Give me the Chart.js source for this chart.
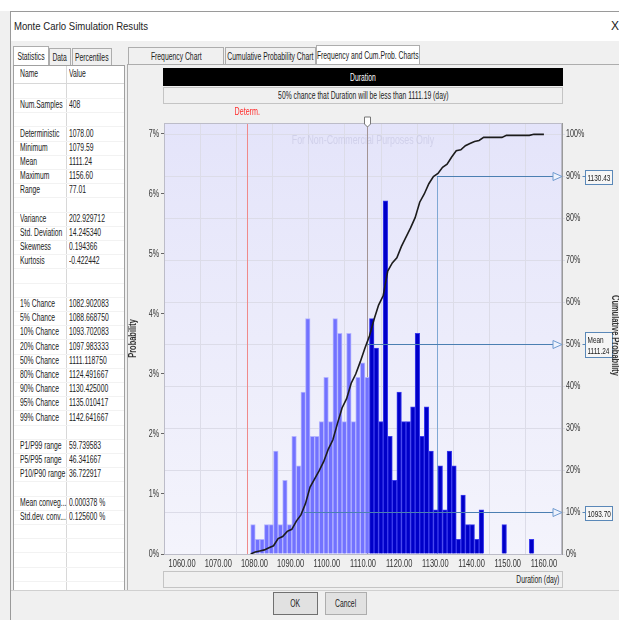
<!DOCTYPE html>
<html>
<head>
<meta charset="utf-8">
<script src="https://cdn.jsdelivr.net/npm/chart.js@4.4.0/dist/chart.umd.min.js"></script>
<style>
  body { margin: 0; width: 619px; height: 620px; overflow: hidden; background: #f0f0f0; position: relative;
         font-family: "Liberation Sans", Arial, sans-serif; font-size: 10px; color: #222; }
  .abs { position: absolute; box-sizing: border-box; }
  .box { display: flex; align-items: center; justify-content: center; white-space: nowrap; }
  .n { display: inline-block; white-space: nowrap; transform: scaleX(0.68); transform-origin: 50% 50%; }
  .tab { position: absolute; box-sizing: border-box; border: 1px solid #adadad; border-bottom: none; background: #f0f0f0;
         display: flex; align-items: center; justify-content: center; white-space: nowrap; }
  .tab.on { background: #fff; }
  .cell { position: absolute; white-space: nowrap; line-height: 14px; transform: scaleX(0.68); transform-origin: 0 50%; }
  .btn { position: absolute; box-sizing: border-box; border: 1px solid #adadad; background: #e1e1e1;
         display: flex; align-items: center; justify-content: center; }
</style>
</head>
<body>
<div class="abs" style="left:0;top:0;width:619px;height:11px;background:#fff;"></div>
<div class="abs" style="left:10px;top:11px;width:620px;height:30px;background:#fff;border-top:1px solid #9a9a9a;border-left:1px solid #9a9a9a;"></div>
<div class="abs" style="left:10px;top:41px;width:1px;height:580px;background:#9a9a9a;"></div>
<div class="abs" style="left:14px;top:20px;font-size:11px;white-space:nowrap;transform:scaleX(0.87);transform-origin:0 50%;">Monte Carlo Simulation Results</div>
<div class="abs" style="left:611px;top:19px;font-size:12px;">X</div>

<div class="tab on" style="left:13px;top:46px;width:36px;height:19px;"><span class="n">Statistics</span></div>
<div class="tab" style="left:49px;top:48px;width:22px;height:17px;"><span class="n">Data</span></div>
<div class="tab" style="left:72px;top:48px;width:40px;height:17px;"><span class="n">Percentiles</span></div>

<div class="tab" style="left:128px;top:47px;width:96px;height:17px;"><span class="n">Frequency Chart</span></div>
<div class="tab" style="left:225px;top:47px;width:91px;height:17px;"><span class="n">Cumulative Probability Chart</span></div>
<div class="tab on" style="left:316px;top:45px;width:104px;height:19px;"><span class="n">Frequency and Cum.Prob. Charts</span></div>
<div class="abs" style="left:128px;top:64px;width:491px;height:1px;background:#adadad;"></div>
<div class="abs" style="left:127px;top:64px;width:1px;height:526px;background:#adadad;"></div>

<div id="table" class="abs" style="left:13px;top:65px;width:112px;height:526px;background:#fff;border:1px solid #a0a0a0;"></div>

<div class="abs box" style="left:163px;top:68px;width:400px;height:18px;background:#000;color:#fff;"><span class="n">Duration</span></div>
<div class="abs box" style="left:163px;top:87px;width:400px;height:17px;background:#f0f0f0;border:1px solid #c4c4c4;"><span class="n">50% chance that Duration will be less than 1111.19 (day)</span></div>
<div class="abs box" style="left:163px;top:571px;width:400px;height:17px;border:1px solid #c4c4c4;justify-content:flex-end;padding-right:3px;"><span class="n" style="transform-origin:100% 50%;">Duration (day)</span></div>

<canvas id="chart" class="abs" width="493" height="470" style="left:126px;top:104px;width:493px;height:470px;"></canvas>

<div class="abs" style="left:11px;top:590px;width:608px;height:1px;background:#d0d0d0;"></div>
<div class="btn" style="left:273px;top:592px;width:45px;height:23px;border:1px solid #707070;"><span class="n">OK</span></div>
<div class="btn" style="left:325px;top:592px;width:42px;height:23px;"><span class="n">Cancel</span></div>

<script>
// Histogram of 408 samples: count per bin, bins start at the minimum
const numSamples = 408;
const binStart = 1079.59;
const binWidth = 1.2625;
const binCounts = [2, 1, 1, 2, 2, 7, 2, 5, 2, 8, 6, 11, 16,
                   8, 8, 9, 12, 9, 16, 15, 9, 15, 9, 12, 13, 12,
                   16, 14, 9, 24, 8, 5, 11, 9, 9, 10, 15, 8, 10, 7,
                   3, 6, 3, 7, 6, 1, 4, 2, 2, 1, 3,
                   0, 0, 0, 0, 2, 0, 0, 0, 0, 0, 1];

const xTickMin = 1060;
const xTickMax = 1160;
const determValue = 1078.00;
const medianValue = 1111.19;
const pctLevels = [10, 50, 90];
const pctValues = [1093.70, 1111.19, 1130.43];
const pctLabels = [['1093.70'], ['Mean', '1111.24'], ['1130.43']];

const statRows = [
  ['', ''], ['Num.Samples', '408'], ['', ''],
  ['Deterministic', '1078.00'], ['Minimum', '1079.59'], ['Mean', '1111.24'], ['Maximum', '1156.60'], ['Range', '77.01'],
  ['', ''],
  ['Variance', '202.929712'], ['Std. Deviation', '14.245340'], ['Skewness', '0.194366'], ['Kurtosis', '-0.422442'],
  ['', ''], ['', ''],
  ['1% Chance', '1082.902083'], ['5% Chance', '1088.668750'], ['10% Chance', '1093.702083'], ['20% Chance', '1097.983333'],
  ['50% Chance', '1111.118750'], ['80% Chance', '1124.491667'], ['90% Chance', '1130.425000'], ['95% Chance', '1135.010417'],
  ['99% Chance', '1142.641667'],
  ['', ''],
  ['P1/P99 range', '59.739583'], ['P5/P95 range', '46.341667'], ['P10/P90 range', '36.722917'],
  ['', ''],
  ['Mean conveg...', '0.000378 %'], ['Std.dev. conv...', '0.125600 %'],
  ['', ''], ['', ''], ['', ''], ['', '']
];

// statistics table
const table = document.getElementById('table');
let html = '<div class="cell" style="left:6px;top:1px;">Name</div><div class="cell" style="left:55px;top:1px;">Value</div>';
html += '<div class="abs" style="left:0;top:17px;width:110px;height:1px;background:#d8d8d8;"></div>';
html += '<div class="abs" style="left:52px;top:0;width:1px;height:524px;background:#d8d8d8;"></div>';
statRows.forEach((r, i) => {
  const top = 18 + i * 14.2;
  html += `<div class="cell" style="left:6px;top:${top}px;">${r[0]}</div>`;
  html += `<div class="cell" style="left:55px;top:${top}px;">${r[1]}</div>`;
  html += `<div class="abs" style="left:0;top:${top + 14}px;width:110px;height:1px;background:#f2f2f2;"></div>`;
});
table.innerHTML = html;

// chart data
const barPoints = binCounts.map((c, i) => ({ x: binStart + i * binWidth, y: c ? c / numSamples * 100 : null }));
const barFill = barPoints.map(p => p.x < medianValue ? '#7272ff' : '#0000c8');
const barEdge = barPoints.map(p => p.x < medianValue ? '#b4b4ff' : '#3c3cee');

let running = 0;
const cumPoints = [{ x: binStart - binWidth / 2, y: 0 }];
binCounts.forEach((c, i) => {
  running += c;
  cumPoints.push({ x: binStart + (i + 0.5) * binWidth, y: running / numSamples * 100 });
});
cumPoints.push({ x: xTickMax, y: 100 });

const FONT = '"Liberation Sans", Arial, sans-serif';
Chart.defaults.font.family = FONT;
Chart.defaults.color = '#333';

// the original uses a narrow font: squeeze every canvas text horizontally
const canvas = document.getElementById('chart');
const c2d = canvas.getContext('2d');
const rawFillText = c2d.fillText;
c2d.fillText = function (text, x, y, maxWidth) {
  this.save();
  this.translate(x, y);
  this.scale(0.68, 1);
  rawFillText.call(this, text, 0, 0, maxWidth);
  this.restore();
};

const overlay = {
  id: 'overlay',
  beforeDraw(chart) {
    const { ctx, chartArea: a } = chart;
    const g = ctx.createLinearGradient(0, a.top, 0, a.bottom);
    g.addColorStop(0, '#e4e4fa');
    g.addColorStop(1, '#f4f4fc');
    ctx.save();
    ctx.fillStyle = g;
    ctx.fillRect(a.left, a.top, a.right - a.left, a.bottom - a.top);
    ctx.restore();
  },
  beforeDatasetsDraw(chart) {
    const { ctx, chartArea: a, scales: { x, y2 } } = chart;
    ctx.save();
    // watermark
    ctx.font = '13px ' + FONT;
    ctx.fillStyle = 'rgba(185,185,215,0.45)';
    ctx.textAlign = 'center';
    ctx.textBaseline = 'middle';
    ctx.fillText('For Non-Commercial Purposes Only', (a.left + a.right) / 2, a.top + 17);
    // deterministic line
    let px = Math.round(x.getPixelForValue(determValue)) + 0.5;
    ctx.strokeStyle = '#f08a8a';
    ctx.lineWidth = 1;
    ctx.beginPath(); ctx.moveTo(px, a.top); ctx.lineTo(px, a.bottom); ctx.stroke();
    // median line
    px = Math.round(x.getPixelForValue(medianValue)) + 0.5;
    ctx.strokeStyle = '#a39494';
    ctx.beginPath(); ctx.moveTo(px, a.top); ctx.lineTo(px, a.bottom); ctx.stroke();
    // percentile drop lines
    ctx.strokeStyle = '#7fa8d4';
    pctLevels.forEach((lv, i) => {
      if (lv === 50) return;
      const vx = Math.round(x.getPixelForValue(pctValues[i])) + 0.5;
      ctx.beginPath(); ctx.moveTo(vx, y2.getPixelForValue(lv)); ctx.lineTo(vx, a.bottom); ctx.stroke();
    });
    ctx.restore();
  },
  afterDatasetsDraw(chart) {
    const { ctx, chartArea: a, scales: { x, y2 } } = chart;
    ctx.save();
    // plot frame
    ctx.strokeStyle = '#bcbcc8';
    ctx.lineWidth = 1;
    ctx.strokeRect(a.left + 0.5, a.top + 0.5, a.right - a.left - 1, a.bottom - a.top);
    // percentile lines with arrows and value boxes
    pctLevels.forEach((lv, i) => {
      const py = Math.round(y2.getPixelForValue(lv)) + 0.5;
      const sx = x.getPixelForValue(pctValues[i]);
      ctx.strokeStyle = '#4b7fb2';
      ctx.beginPath(); ctx.moveTo(sx, py); ctx.lineTo(a.right - 9, py); ctx.stroke();
      ctx.fillStyle = '#eef2fc';
      ctx.strokeStyle = '#6f9bd0';
      ctx.beginPath();
      ctx.moveTo(a.right - 9, py - 4); ctx.lineTo(a.right, py); ctx.lineTo(a.right - 9, py + 4); ctx.closePath();
      ctx.fill(); ctx.stroke();
      const lines = pctLabels[i];
      const bh = lines.length * 11 + 3;
      const bx = a.right + 23.5;
      const by = Math.round(py - bh / 2) + 0.5;
      ctx.fillStyle = '#f6f6f6';
      ctx.fillRect(bx, by, 27, bh);
      ctx.strokeStyle = '#5a88b8';
      ctx.strokeRect(bx, by, 27, bh);
      ctx.beginPath(); ctx.moveTo(bx - 3, py); ctx.lineTo(bx, py); ctx.stroke();
      ctx.fillStyle = '#222';
      ctx.font = '9.5px ' + FONT;
      ctx.textAlign = 'left';
      ctx.textBaseline = 'middle';
      lines.forEach((t, k) => ctx.fillText(t, bx + 2, by + 7.5 + k * 11));
    });
    // median pin at top
    const mx = Math.round(x.getPixelForValue(medianValue)) + 0.5;
    ctx.fillStyle = '#fff';
    ctx.strokeStyle = '#777';
    ctx.beginPath();
    ctx.moveTo(mx - 3, a.top - 6); ctx.lineTo(mx + 3, a.top - 6); ctx.lineTo(mx + 3, a.top + 1);
    ctx.lineTo(mx, a.top + 4); ctx.lineTo(mx - 3, a.top + 1); ctx.closePath();
    ctx.fill(); ctx.stroke();
    // Determ. label
    ctx.fillStyle = '#ff2a2a';
    ctx.font = '10.5px ' + FONT;
    ctx.textAlign = 'center';
    ctx.textBaseline = 'middle';
    ctx.fillText('Determ.', x.getPixelForValue(determValue), a.top - 11);
    // axis titles
    ctx.fillStyle = '#333';
    ctx.font = 'bold 11px ' + FONT;
    ctx.save();
    ctx.translate(7, (a.top + a.bottom) / 2);
    ctx.rotate(-Math.PI / 2);
    ctx.fillText('Probability', 0, 0);
    ctx.restore();
    ctx.save();
    ctx.translate(chart.width - 4, (a.top + a.bottom) / 2 - 3);
    ctx.rotate(Math.PI / 2);
    ctx.fillText('Cumulative Probability', 0, 0);
    ctx.restore();
    ctx.restore();
  }
};

new Chart(canvas, {
  data: {
    datasets: [
      {
        type: 'line',
        data: cumPoints,
        yAxisID: 'y2',
        borderColor: '#1c1c1c',
        borderWidth: 1.6,
        pointRadius: 0,
        tension: 0,
        order: 0
      },
      {
        type: 'bar',
        data: barPoints,
        yAxisID: 'y',
        backgroundColor: barFill,
        borderColor: barEdge,
        borderWidth: 1,
        barPercentage: 1,
        categoryPercentage: 1,
        order: 1
      }
    ]
  },
  options: {
    responsive: false,
    animation: false,
    events: [],
    layout: { padding: { top: 19, left: 0, right: 0, bottom: 0 } },
    plugins: { legend: { display: false }, tooltip: { enabled: false } },
    scales: {
      x: {
        type: 'linear',
        min: xTickMin,
        max: xTickMax,
        afterFit: s => { s.height = 20; },
        grid: { color: '#dcdce8', drawTicks: false },
        border: { color: '#9a9a9a' },
        ticks: { stepSize: 10, autoSkip: false, maxRotation: 0, padding: 3, font: { size: 11 },
                 callback: v => v.toFixed(2) }
      },
      y: {
        position: 'left',
        min: 0,
        max: 7.18,
        afterFit: s => { s.width = 38; },
        grid: { drawOnChartArea: false, tickLength: 3, color: '#666' },
        border: { color: '#9a9a9a' },
        ticks: { stepSize: 1, includeBounds: false, autoSkip: false, padding: 2, font: { size: 10.5 },
                 callback: v => v + '%' }
      },
      y2: {
        position: 'right',
        min: 0,
        max: 102.7,
        afterFit: s => { s.width = 57; },
        grid: { color: '#dcdce8', tickLength: 3 },
        border: { color: '#9a9a9a' },
        ticks: { stepSize: 10, includeBounds: false, autoSkip: false, padding: 1, font: { size: 10.5 },
                 callback: v => v + '%' }
      }
    }
  },
  plugins: [overlay]
});
</script>
</body>
</html>
